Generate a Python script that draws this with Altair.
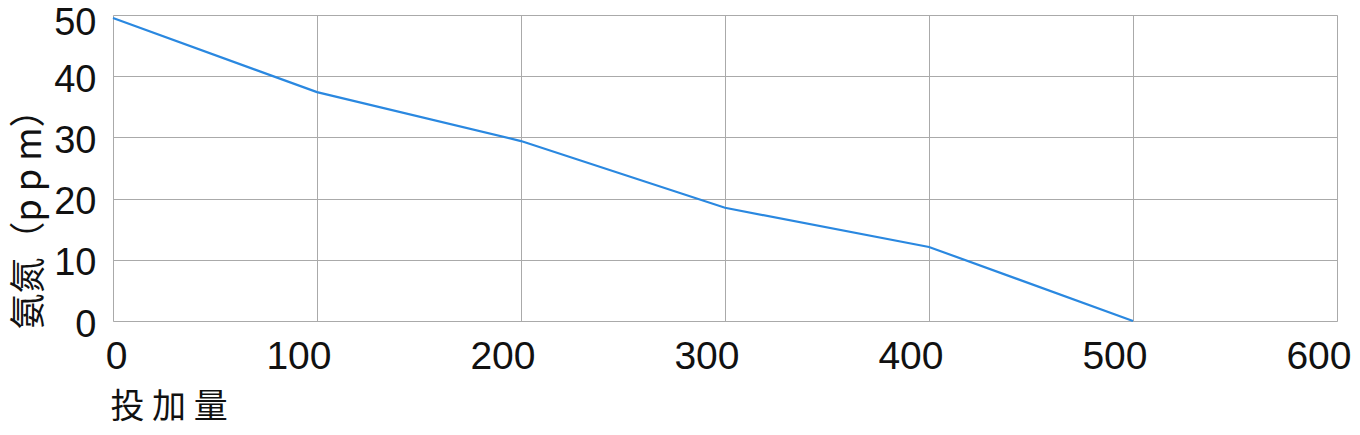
import altair as alt
import pandas as pd

dose = [0, 100, 200, 300, 400, 500]
ammonia = [49.5, 37.4, 29.4, 18.5, 12.1, 0.0]

df = pd.DataFrame({"dose": dose, "ammonia": ammonia})

FONT = "Liberation Sans, Arial, Noto Sans CJK SC"

chart = alt.Chart(df).mark_line(color="#2a88e0", strokeWidth=2.2).encode(
    x=alt.X("dose:Q", scale=alt.Scale(domain=[0, 600], nice=False),
            axis=alt.Axis(values=[0, 100, 200, 300, 400, 500, 600], format="d",
                          title="投 加 量", titleAnchor="start", titleAlign="left",
                          titleBaseline="middle", titleX=-3, titleY=86,
                          titleFontSize=34, titleFontWeight="normal",
                          titleFont="Noto Sans CJK SC", titleColor="#111",
                          labelFontSize=39, labelFont=FONT, labelColor="#111",
                          labelBaseline="top", labelPadding=16,
                          labelAlign="right", labelOffset=14,
                          labelFlush=False, labelOverlap=False,
                          grid=True, gridColor="#aaaaaa", gridWidth=1,
                          domain=False, ticks=False)),
    y=alt.Y("ammonia:Q", scale=alt.Scale(domain=[0, 50], nice=False),
            axis=alt.Axis(values=[0, 10, 20, 30, 40, 50], format="d",
                          title="氨氮（p p m）", titleAngle=-90, titleAlign="center",
                          titleBaseline="middle", titleX=-84, titleY=195,
                          titleFontSize=36, titleFontWeight="normal",
                          titleFont="Noto Sans CJK SC", titleColor="#111",
                          labelFontSize=38, labelFont=FONT, labelColor="#111",
                          labelPadding=17,
                          labelOffset={"condition": {"test": "datum.value == 50", "value": 8}, "value": 4},
                          labelOverlap=False, labelFlush=False,
                          grid=True, gridColor="#aaaaaa", gridWidth=1,
                          domain=False, ticks=False)),
).properties(
    width=1224, height=306,
    autosize=alt.AutoSizeParams(type="none"),
    padding={"left": 105, "top": 7, "right": 15, "bottom": 106},
).configure_view(stroke="#111", strokeWidth=2).configure(background="white")

chart.save("out.html", embed_options={"renderer": "svg", "actions": False})
